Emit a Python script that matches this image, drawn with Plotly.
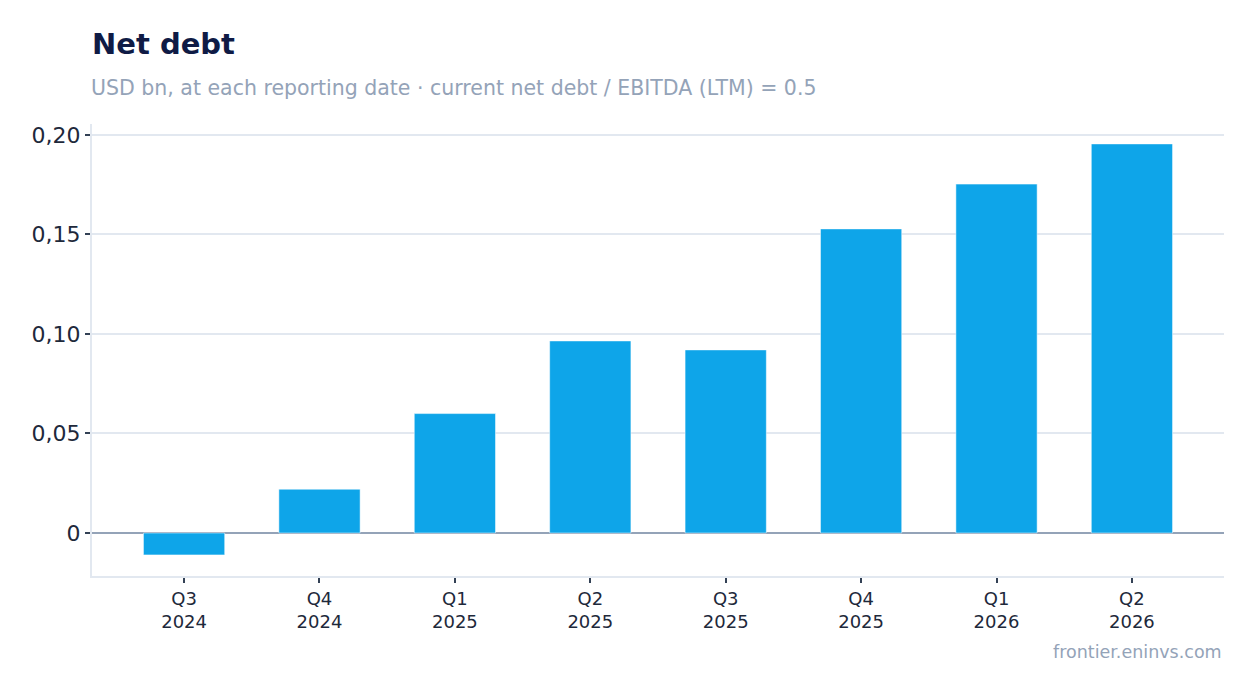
import plotly.graph_objects as go

quarters = ["Q3<br>2024", "Q4<br>2024", "Q1<br>2025", "Q2<br>2025",
            "Q3<br>2025", "Q4<br>2025", "Q1<br>2026", "Q2<br>2026"]
net_debt = [-0.011, 0.022, 0.060, 0.0965, 0.092, 0.1528, 0.1753, 0.1955]
y_ticks = [0, 0.05, 0.1, 0.15, 0.2]
y_labels = ["0", "0,05", "0,10", "0,15", "0,20"]

font = "DejaVu Sans"

fig = go.Figure(go.Bar(x=quarters, y=net_debt, marker_color="#0ea5e9", width=0.6))

fig.update_layout(
    width=1254, height=693, template="plotly_white",
    paper_bgcolor="white", plot_bgcolor="white",
    margin=dict(l=84, r=38, t=116, b=125),
    separators=", ",
    showlegend=False,
    font=dict(family=font, color="#0f172a"),
    title=dict(text="<b>Net debt</b>", x=84 / 1254, xanchor="left",
               y=1 - 36 / 693, yanchor="middle",
               font=dict(family=font, size=29, color="#0f1b45")),
)
fig.add_annotation(text="USD bn, at each reporting date · current net debt / EBITDA (LTM) = 0.5",
                   xref="paper", yref="paper", x=0, y=1 + 36 / 452, xanchor="left",
                   xshift=-3, yanchor="middle", showarrow=False,
                   font=dict(family=font, size=20.5, color="#94a3b8"))
fig.add_annotation(text="frontier.eninvs.com", xref="paper", yref="paper",
                   x=1, y=-76 / 452, xanchor="right", yanchor="middle",
                   showarrow=False, font=dict(family=font, size=17.5, color="#94a3b8"))

fig.update_xaxes(range=[-0.68, 7.68], showline=True, linecolor="#e2e8f0", linewidth=2,
                 ticks="outside", ticklen=5, tickcolor="#334155", tickwidth=2,
                 tickfont=dict(family=font, size=18, color="#1e293b"),
                 showgrid=False)
fig.update_yaxes(range=[-0.0216, 0.2055], tickvals=y_ticks, ticktext=y_labels,
                 showline=True, linecolor="#e2e8f0", linewidth=2,
                 ticks="outside", ticklen=5, tickcolor="#334155", tickwidth=2,
                 gridcolor="#e2e8f0", gridwidth=1.5,
                 zeroline=True, zerolinecolor="#94a3b8", zerolinewidth=2,
                 tickfont=dict(family=font, size=22, color="#1e293b"))

fig.write_html("out.html")
